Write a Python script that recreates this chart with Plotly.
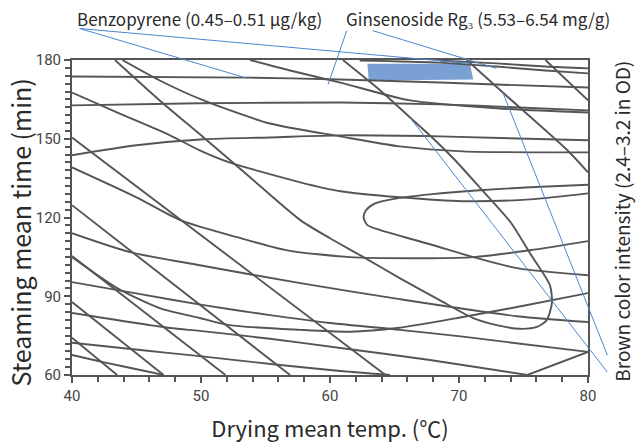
import plotly.graph_objects as go

# ---------------- axes ----------------
x_range = [40, 80]
y_range = [60, 180]
x_ticks = [40, 50, 60, 70, 80]
y_ticks = [60, 90, 120, 150, 180]

# ---------------- contour lines (x: drying temp °C, y: steaming time min) ----------------
h1_x = [40, 53.6, 60.8, 68.5, 80]
h1_y = [173.7, 173.3, 172.6, 171.4, 169.5]
h2_x = [40, 49.9, 60.8, 68.5, 74.7, 80]
h2_y = [162.7, 163.5, 163.8, 163.1, 161.9, 160.8]
t1_x = [68.5, 72.9, 76.7, 80]
t1_y = [179.8, 178.7, 177.5, 176.8]
t2_x = [62.3, 68.5, 72.9, 76.7, 80]
t2_y = [179.8, 179.0, 177.5, 176.0, 174.9]
c0_x = [53.8, 56.9, 60.8, 66.2, 72.9, 80]
c0_y = [180, 176.0, 171.4, 164.6, 161.6, 160.0]
d_x = [40, 45, 50.2, 55.35, 60.8, 68.5, 80]
d_y = [143.7, 147.5, 149.8, 150.5, 151.3, 150.9, 149.4]
c1_x = [43.9, 46.8, 50.2, 55.35, 60.8, 65.4, 70.3, 80]
c1_y = [180, 172.2, 164.6, 155.8, 150.9, 147.1, 145.2, 144.8]
c2_x = [40, 43.7, 47.6, 49.9, 52.2, 57.7, 60.8, 65.4, 70.3, 75.5, 80]
c2_y = [167.6, 159.6, 151.3, 145.6, 141.0, 133.4, 130.0, 127.7, 126.2, 126.9, 129.2]
c3_x = [40, 45, 48.4, 52.8, 56.7, 61.55, 67.75, 71.1, 75.5, 80]
c3_y = [139.1, 127.7, 119.0, 112.5, 107.5, 104.9, 104.5, 104.9, 107.5, 111.0]
c4_x = [40, 44.5, 49.9, 57.7, 65.4, 74.5, 80]
c4_y = [114.0, 106.8, 101.8, 95.0, 88.9, 82.4, 80.2]
c5_x = [40, 43.5, 46.8, 49.9, 52.2, 57.7, 61.55, 65.2, 70.3, 74.5, 80]
c5_y = [104.9, 93.1, 85.5, 81.7, 79.0, 77.2, 76.5, 77.9, 82.1, 85.9, 91.2]
c6_x = [40, 45.3, 50.2, 55.35, 60, 65.4, 70.3, 80]
c6_y = [95.4, 90.8, 86.6, 82.8, 79.8, 77.2, 74.6, 68.8]
c7_x = [40, 47.6, 49.9, 55.35, 60.8, 67.75, 75.3]
c7_y = [83.6, 77.9, 76.8, 73.8, 70.3, 65.7, 60]
c8_x = [40, 45.3, 49.9, 55.4, 60.8, 64.65]
c8_y = [72.3, 69.5, 67.2, 64.2, 61.5, 60]
c9_x = [40, 42.4, 45.3, 47.1]
c9_y = [67.6, 64.9, 61.9, 60]
v_x = [75.3, 80]
v_y = [60, 68.8]
u_x = [80, 75.5, 71.6, 67.75, 65.2, 63.5, 62.8, 62.6, 62.9, 63.9, 67.75, 71.1, 74.5, 80]
u_y = [132.5, 131.5, 130.4, 128.8, 127.3, 125.4, 122.8, 120.1, 117.1, 115.2, 109.8, 104.9, 100.7, 98.0]
loop_x = [43.33, 46.8, 50.2, 53.8, 57.7, 60.0, 62.6, 65.4, 68.5, 71.1, 73.2, 74.7, 76.05, 76.8,
          77.2, 77.05, 75.5, 74.0, 71.6, 69.7, 68.0, 66.2, 63.9, 61.0]
loop_y = [180, 164.6, 150.5, 135.3, 119.0, 112.1, 104.9, 96.9, 88.5, 81.7, 78.7, 77.6, 78.3, 80.9,
          87.4, 94.2, 106.4, 118.2, 131.5, 141.8, 150.1, 158.1, 168.4, 180]
b1_x = [40, 64.3]
b1_y = [150.5, 60]
b2_x = [40, 56.9]
b2_y = [124.7, 60]
b3_x = [40, 51.9]
b3_y = [105.3, 60]
b4_x = [40, 47.1]
b4_y = [87.8, 60]
b5_x = [40, 43.5]
b5_y = [74.2, 60]
b6_x = [70.6, 73.4, 78.4, 80]
b6_y = [180, 167.6, 145.6, 137.2]
b7_x = [76.7, 80]
b7_y = [180, 164.6]

# optimal (overlap) region
opt_x = [62.9, 70.85, 71.1, 63.0]
opt_y = [178.6, 178.6, 172.6, 172.2]

# leader lines: (start_x, start_y, end_x, end_y) in data units
benzo_leaders = [(40.6, 192.0, 53.4, 173.3), (40.6, 192.0, 70.85, 178.7)]
ginseno_leaders = [(61.3, 191.2, 59.85, 170.7), (63.3, 191.2, 72.9, 176.8)]
brown_leaders = [(81.5, 61.1, 66.2, 158.1), (81.5, 67.6, 73.4, 167.6)]

lines = [
    (h1_x, h1_y), (h2_x, h2_y), (t1_x, t1_y), (t2_x, t2_y), (c0_x, c0_y), (d_x, d_y),
    (c1_x, c1_y), (c2_x, c2_y), (c3_x, c3_y), (c4_x, c4_y), (c5_x, c5_y), (c6_x, c6_y),
    (c7_x, c7_y), (c8_x, c8_y), (c9_x, c9_y), (v_x, v_y), (u_x, u_y), (loop_x, loop_y),
    (b1_x, b1_y), (b2_x, b2_y), (b3_x, b3_y), (b4_x, b4_y), (b5_x, b5_y), (b6_x, b6_y),
    (b7_x, b7_y),
]

LINE = "#555555"
BLUE = "#4A86D0"
TEXTFONT = "Noto Sans CJK KR"
TEXTCOL = "#2a2a2a"


def xp(x):
    return (x - x_range[0]) / (x_range[1] - x_range[0])


def yp(y):
    return (y - y_range[0]) / (y_range[1] - y_range[0])


fig = go.Figure()

fig.add_trace(go.Scatter(x=opt_x + [opt_x[0]], y=opt_y + [opt_y[0]], fill="toself",
                         fillcolor="#7BA0D4", line=dict(width=0), mode="lines",
                         hoverinfo="skip", showlegend=False))

for lx, ly in lines:
    fig.add_trace(go.Scatter(x=lx, y=ly, mode="lines",
                             line=dict(color=LINE, width=1.9, shape="spline", smoothing=0.7),
                             hoverinfo="skip", showlegend=False))

shapes = []
for (x0, y0, x1, y1) in benzo_leaders + ginseno_leaders + brown_leaders:
    shapes.append(dict(type="line", xref="paper", yref="paper", x0=xp(x0), y0=yp(y0),
                       x1=xp(x1), y1=yp(y1), line=dict(color=BLUE, width=1), layer="above"))

label_font = dict(family=TEXTFONT, size=17, color=TEXTCOL)
annotations = [
    dict(text="Benzopyrene (0.45\u20130.51 \u03bcg/kg)", x=xp(40.2), y=yp(195.8), xref="paper", yref="paper",
         xanchor="left", yanchor="middle", showarrow=False, font=label_font),
    dict(text="Ginsenoside Rg\u2083 (5.53\u20136.54 mg/g)", x=xp(61.1), y=yp(195.8), xref="paper",
         yref="paper", xanchor="left", yanchor="middle", showarrow=False, font=label_font),
    dict(text="Brown color intensity (2.4\u20133.2 in OD)", x=xp(82.6), y=yp(118.6), xref="paper",
         yref="paper", xanchor="center", yanchor="middle", showarrow=False, textangle=-90,
         font=dict(family=TEXTFONT, size=19, color=TEXTCOL)),
    dict(text="Steaming mean time (min)", x=xp(36.0), y=yp(114.4), xref="paper", yref="paper",
         xanchor="center", yanchor="middle", showarrow=False, textangle=-90,
         font=dict(family=TEXTFONT, size=25, color=TEXTCOL)),
]

axis_common = dict(showgrid=False, zeroline=False, showline=True, linecolor=LINE, linewidth=2,
                   mirror=True, ticks="outside", ticklen=6, tickwidth=1.5, tickcolor=LINE,
                   automargin=False,
                   tickfont=dict(family="Liberation Sans Narrow, Roboto", size=15, color="#444"))

fig.update_layout(
    width=639, height=447,
    margin=dict(l=72, r=51, t=60, b=72),
    plot_bgcolor="white", paper_bgcolor="white",
    shapes=shapes, annotations=annotations,
    xaxis=dict(range=x_range, tickvals=x_ticks,
               minor=dict(dtick=2, ticks="outside", ticklen=5, tickcolor=LINE, tickwidth=1.5),
               title=dict(text="Drying mean temp. (\u2103)", standoff=18,
                          font=dict(family=TEXTFONT, size=22, color=TEXTCOL)),
               **axis_common),
    yaxis=dict(range=y_range, tickvals=y_ticks,
               minor=dict(dtick=3, ticks="outside", ticklen=5, tickcolor=LINE, tickwidth=1.5),
               **axis_common),
)

fig.write_html("out.html", config={"displayModeBar": False},
               post_script="document.body.style.margin='0px';")
